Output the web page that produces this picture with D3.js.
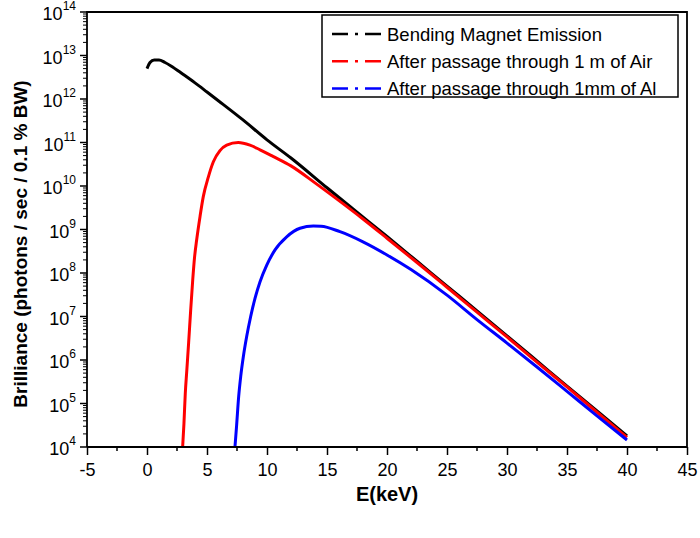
<!DOCTYPE html>
<html>
<head>
<meta charset="utf-8">
<script src="https://cdn.jsdelivr.net/npm/d3@7"></script>
<style>
  body { margin: 0; background: #fff; }
  svg { display: block; font-family: "Liberation Sans", Arial, sans-serif; }
</style>
</head>
<body>
<svg id="chart" width="700" height="538"></svg>
<script>
// values (E in keV, brilliance in photons/sec/0.1%BW)
var bm_E   = [0, 0.25, 0.6, 1.0, 1.5, 2, 3, 4, 5, 6, 8, 10, 12, 15, 17.5, 20, 22.5, 25, 27.5, 30, 32.5, 35, 37.5, 40];
var bm_val = [5.0e12, 6.9e12, 7.9e12, 7.9e12, 6.9e12, 5.75e12, 3.7e12, 2.35e12, 1.45e12, 8.9e11, 3.3e11, 1.15e11,
              4.4e10, 9.1e9, 2.5e9, 6.9e8, 1.86e8, 5.0e7, 1.35e7, 3.6e6, 9.5e5, 2.5e5, 6.8e4, 1.8e4];

var air_E   = [2.97, 3.08, 3.19, 3.31, 3.47, 3.64, 3.81, 3.97, 4.14, 4.42, 4.69, 5.11, 5.53, 6.08, 6.64, 7.6, 8.58,
               9.42, 10.5, 12, 14, 16, 18, 20, 22.5, 25, 27.5, 30, 32.5, 35, 37.5, 40];
var air_val = [1.0e4, 3.5e4, 1.7e5, 5.4e5, 2.5e6, 1.4e7, 6.9e7, 2.4e8, 5.8e8, 2.0e9, 5.7e9, 1.6e10, 3.6e10, 6.5e10,
               8.7e10, 1.0e11, 8.7e10, 6.8e10, 4.8e10, 2.9e10, 1.18e10, 4.6e9, 1.74e9, 6.3e8, 1.74e8, 4.7e7, 1.26e7,
               3.4e6, 8.9e5, 2.4e5, 6.3e4, 1.66e4];

var al_E   = [7.33, 7.47, 7.64, 7.81, 8.03, 8.31, 8.64, 9.0, 9.42, 9.97, 10.67, 11.64, 12.75, 13.86, 14.5, 16.08,
              18, 20, 22, 25, 27.5, 30, 32.5, 35, 37.5, 40];
var al_val = [1.0e4, 3.2e4, 1.45e5, 4.2e5, 1.2e6, 3.5e6, 1.0e7, 2.6e7, 6.3e7, 1.5e8, 3.4e8, 6.8e8, 1.07e9, 1.2e9,
              1.19e9, 8.9e8, 5.2e8, 2.6e8, 1.2e8, 3.1e7, 8.5e6, 2.45e6, 6.9e5, 1.9e5, 5.2e4, 1.45e4];

var series_names  = ["Bending Magnet Emission", "After passage through 1 m of Air", "After passage through 1mm of Al"];
var series_colors = ["#000000", "#ff0000", "#0000ff"];

var x_ticks = [-5, 0, 5, 10, 15, 20, 25, 30, 35, 40, 45];
var y_exponents = [4, 5, 6, 7, 8, 9, 10, 11, 12, 13, 14];

var svg = d3.select("#chart");
var L = 87, R = 687, T = 12, B = 447;

var x = d3.scaleLinear().domain([-5, 45]).range([L, R]);
var y = d3.scaleLog().domain([1e4, 1e14]).range([B, T]);

// clip
svg.append("clipPath").attr("id", "plotclip")
    .append("rect").attr("x", L).attr("y", T).attr("width", R - L).attr("height", B - T);

// curves
var series = [
    {E: bm_E, v: bm_val},
    {E: air_E, v: air_val},
    {E: al_E, v: al_val}
];

var line = d3.line()
    .x(function(d){ return x(d[0]); })
    .y(function(d){ return y(d[1]); })
    .curve(d3.curveMonotoneX);

var plot = svg.append("g").attr("clip-path", "url(#plotclip)");
series.forEach(function(s, i){
    var pts = s.E.map(function(e, j){ return [e, s.v[j]]; });
    plot.append("path")
	.attr("d", line(pts))
	.attr("fill", "none")
	.attr("stroke", series_colors[i])
	.attr("stroke-width", 3)
	.attr("stroke-linejoin", "round");
});

// bottom axis
var xMinor = d3.range(-2.5, 45, 5);
var xAxis = d3.axisBottom(x).tickValues(x_ticks).tickSize(8).tickPadding(8)
    .tickFormat(function(d){ return d; });
var gx = svg.append("g").attr("transform", "translate(0," + B + ")").call(xAxis);
gx.select(".domain").remove();
gx.selectAll(".tick line").attr("stroke-width", 1.5);
gx.selectAll(".tick text").attr("font-size", 18).attr("font-family", "Liberation Sans, Arial, sans-serif").attr("fill", "#000");
gx.selectAll(".minor").data(xMinor).enter().append("line")
    .attr("class", "minor")
    .attr("x1", function(d){ return x(d); }).attr("x2", function(d){ return x(d); })
    .attr("y1", 0).attr("y2", 4)
    .attr("stroke", "#000").attr("stroke-width", 1.5);

// left axis (log)
var yMinor = [];
y_exponents.slice(0, -1).forEach(function(p){
    for (var k = 2; k <= 9; k++){ yMinor.push(k * Math.pow(10, p)); }
});
var gy = svg.append("g").attr("transform", "translate(" + L + ",0)");
gy.selectAll(".major").data(y_exponents).enter().append("line")
    .attr("class", "major")
    .attr("x1", -7).attr("x2", 0)
    .attr("y1", function(p){ return y(Math.pow(10, p)); })
    .attr("y2", function(p){ return y(Math.pow(10, p)); })
    .attr("stroke", "#000").attr("stroke-width", 1.5);
gy.selectAll(".minor").data(yMinor).enter().append("line")
    .attr("class", "minor")
    .attr("x1", -4).attr("x2", 0)
    .attr("y1", function(d){ return y(d); })
    .attr("y2", function(d){ return y(d); })
    .attr("stroke", "#000").attr("stroke-width", 1);
var lab = gy.selectAll(".lab").data(y_exponents).enter().append("text")
    .attr("class", "lab")
    .attr("x", -11)
    .attr("y", function(p){ return y(Math.pow(10, p)) + 8; })
    .attr("text-anchor", "end")
    .attr("font-size", 18)
    .attr("fill", "#000");
lab.append("tspan").text("10");
lab.append("tspan").attr("dy", -10).attr("font-size", 12).text(function(p){ return p; });

// frame
svg.append("path")
    .attr("d", "M" + L + "," + B + "V" + T + "H" + R + "V" + B + "H" + L)
    .attr("fill", "none").attr("stroke", "#000").attr("stroke-width", 1.8);

// axis titles
svg.append("text")
    .attr("x", (L + R) / 2).attr("y", 501)
    .attr("text-anchor", "middle").attr("font-size", 20).attr("font-weight", "bold")
    .text("E(keV)");
svg.append("text")
    .attr("transform", "translate(27,244) rotate(-90)")
    .attr("text-anchor", "middle").attr("font-size", 19).attr("font-weight", "bold")
    .text("Brilliance (photons / sec / 0.1 % BW)");

// legend
var lg = svg.append("g");
lg.append("rect").attr("x", 322).attr("y", 15).attr("width", 356).attr("height", 82)
    .attr("fill", "#fff").attr("stroke", "#000").attr("stroke-width", 1.5);
series_names.forEach(function(name, i){
    var yy = 34 + i * 27.3;
    lg.append("line")
	.attr("x1", 332).attr("x2", 381).attr("y1", yy).attr("y2", yy)
	.attr("stroke", series_colors[i]).attr("stroke-width", 2.5)
	.attr("stroke-dasharray", "16 7 3 7 16");
    lg.append("text")
	.attr("x", 387).attr("y", yy + 6.5)
	.attr("font-size", 18.5).attr("fill", "#000")
	.text(name);
});
</script>
</body>
</html>
